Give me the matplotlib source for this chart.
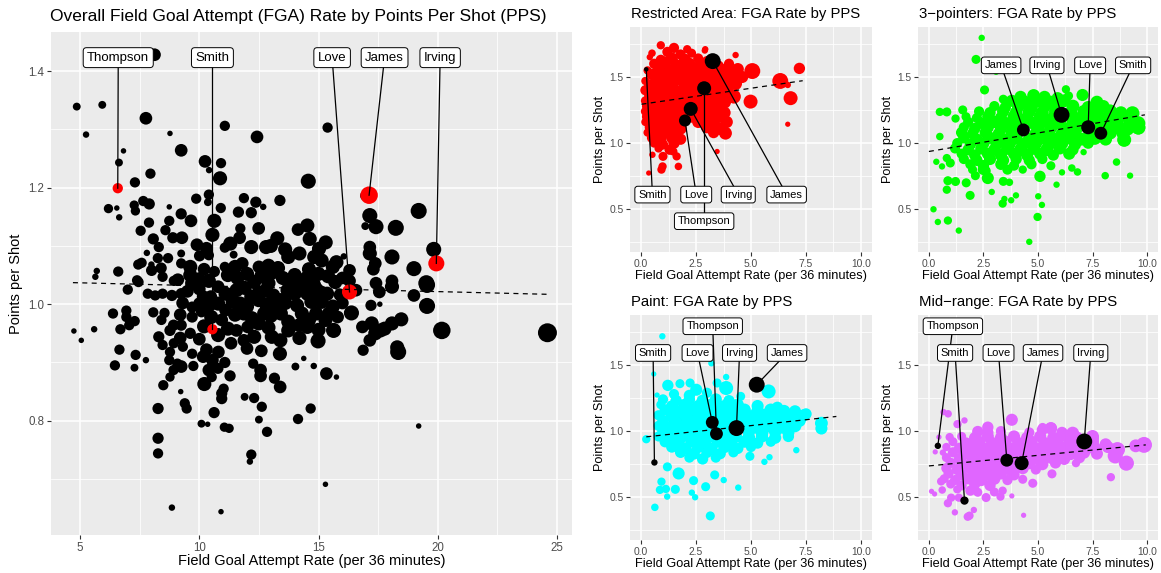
import numpy as np
import matplotlib
matplotlib.use("Agg")
import matplotlib.pyplot as plt

plt.rcParams['font.family'] = ['Liberation Sans', 'DejaVu Sans']

W, H = 1161, 573

# ---------------- overall panel ----------------
main_x = [
    8.12, 4.86, 5.93, 5.25, 7.76, 8.77, 11.07, 12.42, 15.38, 9.24,
    6.82, 6.63, 7.30, 7.95, 10.24, 10.91, 10.41, 10.87, 14.57, 16.96,
    19.2, 6.19, 6.54, 6.64, 7.27, 7.32, 7.65, 7.90, 8.74, 9.87,
    10.40, 10.36, 10.90, 11.87, 12.37, 12.68, 13.38, 11.64, 12.18, 9.24,
    9.65, 8.74, 8.58, 7.89, 7.54, 10.63, 10.55, 8.07, 8.89, 9.27,
    8.30, 11.72, 12.49, 11.69, 12.18, 12.80, 13.27, 14.14, 14.53, 14.63,
    15.02, 17.15, 17.41, 16.96, 18.24, 11.07, 7.80, 7.44, 7.58, 7.99,
    8.26, 8.69, 9.24, 9.24, 10.01, 10.40, 11.44, 11.07, 5.70, 5.64,
    6.60, 7.39, 8.46, 8.93, 9.62, 9.62, 9.70, 10.63, 11.80, 12.50,
    13.73, 14.20, 14.82, 15.13, 15.60, 15.75, 16.06, 17.15, 17.15, 17.38,
    17.30, 18.08, 19.00, 19.83, 19.52, 17.41, 18.08, 11.2, 11.6, 12.0,
    12.6, 13.1, 13.5, 14.0, 14.5, 15.0, 15.4, 16.0, 7.0, 7.45,
    7.84, 8.15, 8.46, 8.85, 9.24, 10.16, 10.48, 10.79, 11.10, 11.56,
    12.18, 12.80, 13.10, 13.42, 14.20, 14.53, 15.36, 16.57, 17.55, 18.08,
    19.00, 19.55, 10.01, 10.79, 11.10, 11.72, 12.49, 11.87, 12.72, 13.42,
    15.00, 15.13, 14.90, 15.44, 17.20, 17.57, 19.55, 16.38, 6.38, 6.94,
    6.94, 8.07, 8.54, 8.41, 9.70, 10.09, 9.70, 10.94, 12.49, 12.03,
    13.73, 14.60, 15.29, 16.84, 17.23, 18.08, 18.47, 6.69, 7.06, 7.29,
    8.92, 9.24, 11.56, 13.73, 14.53, 15.63, 17.60, 17.77, 17.38, 4.74,
    5.05, 5.59, 8.30, 8.77, 9.62, 10.79, 11.87, 13.04, 14.98, 17.15,
    20.17, 24.60, 8.46, 8.93, 9.31, 11.33, 6.65, 7.33, 8.77, 9.70,
    13.38, 16.87, 18.34, 18.30, 7.76, 8.74, 9.08, 10.16, 10.55, 11.07,
    14.38, 6.46, 7.28, 9.24, 8.92, 9.75, 10.40, 10.78, 12.26, 12.57,
    12.57, 14.03, 14.80, 15.33, 8.77, 8.49, 10.52, 10.21, 11.29, 13.15,
    13.39, 15.75, 9.22, 9.39, 9.47, 10.94, 11.02, 10.94, 8.27, 10.62,
    11.90, 12.30, 12.62, 14.67, 10.09, 10.35, 11.05, 11.25, 12.50, 12.84,
    14.14, 19.20, 8.27, 8.27, 12.18, 12.12, 8.85, 10.91, 15.29,
    9.9, 10.3, 11.3, 13.0, 13.6, 15.3, 8.0, 8.4, 10.2, 11.5,
    12.9, 13.3, 14.6, 16.3, 9.1, 10.0, 10.4, 12.3, 12.9, 13.8,
    14.3, 14.8, 15.7, 16.3, 9.5, 10.0, 11.9, 12.5, 13.7, 14.0,
    14.9, 15.1, 15.9, 9.3, 10.4, 11.4, 12.0, 12.8, 13.1, 13.6,
    14.1, 14.7, 15.6, 16.0, 9.2, 10.5, 11.5, 12.2, 13.0, 14.3,
    15.8, 10.2, 11.2, 12.9, 14.2, 15.0, 9.2, 10.0, 12.3, 13.4,
    14.2, 10.3, 10.8, 12.0, 12.6,
]
main_y = [
    1.428, 1.339, 1.342, 1.291, 1.319, 1.293, 1.306, 1.287, 1.303, 1.264,
    1.263, 1.243, 1.209, 1.224, 1.245, 1.242, 1.230, 1.216, 1.211, 1.186,
    1.160, 1.164, 1.165, 1.149, 1.170, 1.160, 1.177, 1.172, 1.167, 1.181,
    1.188, 1.175, 1.165, 1.182, 1.175, 1.167, 1.178, 1.158, 1.157, 1.155,
    1.143, 1.143, 1.127, 1.140, 1.126, 1.143, 1.119, 1.112, 1.114, 1.114,
    1.098, 1.130, 1.130, 1.114, 1.098, 1.098, 1.113, 1.128, 1.135, 1.112,
    1.095, 1.152, 1.133, 1.134, 1.131, 1.097, 1.088, 1.068, 1.071, 1.068,
    1.079, 1.079, 1.087, 1.070, 1.083, 1.084, 1.085, 1.064, 1.057, 1.047,
    1.056, 1.041, 1.047, 1.040, 1.064, 1.050, 1.036, 1.056, 1.070, 1.064,
    1.081, 1.087, 1.081, 1.075, 1.064, 1.072, 1.082, 1.087, 1.098, 1.070,
    1.060, 1.081, 1.061, 1.094, 1.036, 1.036, 1.040, 1.050, 1.045, 1.052,
    1.048, 1.055, 1.045, 1.050, 1.045, 1.052, 1.048, 1.045, 1.025, 1.038,
    1.018, 1.015, 1.018, 1.015, 1.018, 1.013, 1.013, 1.030, 1.018, 1.024,
    1.013, 1.024, 1.015, 1.007, 1.030, 1.018, 1.018, 1.024, 1.021, 1.030,
    1.015, 1.033, 1.001, 1.001, 0.990, 1.001, 1.007, 0.984, 0.984, 0.984,
    1.007, 1.004, 0.984, 0.984, 0.998, 1.000, 0.997, 0.985, 0.984, 0.989,
    0.978, 0.986, 0.985, 0.973, 0.978, 0.987, 0.995, 0.973, 0.967, 0.961,
    0.970, 0.973, 0.973, 0.961, 0.967, 0.967, 0.974, 0.957, 0.964, 0.971,
    0.964, 0.964, 0.955, 0.955, 0.961, 0.955, 0.955, 0.958, 0.950, 0.954,
    0.938, 0.957, 0.944, 0.955, 0.950, 0.947, 0.938, 0.944, 0.937, 0.938,
    0.955, 0.951, 0.930, 0.933, 0.927, 0.933, 0.922, 0.913, 0.918, 0.915,
    0.915, 0.921, 0.918, 0.926, 0.904, 0.904, 0.898, 0.910, 0.904, 0.900,
    0.907, 0.895, 0.891, 0.893, 0.887, 0.894, 0.887, 0.890, 0.898, 0.887,
    0.877, 0.893, 0.894, 0.881, 0.875, 0.861, 0.875, 0.863, 0.877, 0.873,
    0.858, 0.875, 0.850, 0.830, 0.821, 0.847, 0.855, 0.838, 0.821, 0.814,
    0.841, 0.839, 0.824, 0.821, 0.795, 0.794, 0.789, 0.787, 0.802, 0.781,
    0.803, 0.791, 0.770, 0.744, 0.742, 0.730, 0.651, 0.644, 0.691,
    1.102, 1.096, 1.104, 1.100, 1.094, 1.106, 1.058, 1.062, 1.060, 1.064,
    1.066, 1.062, 1.060, 1.058, 1.042, 1.044, 1.040, 1.038, 1.036, 1.040,
    1.036, 1.034, 1.038, 1.040, 1.022, 1.026, 1.028, 1.020, 1.024, 1.018,
    1.026, 1.020, 1.016, 1.002, 0.998, 1.004, 0.996, 1.000, 0.994, 1.002,
    0.998, 1.004, 0.996, 1.002, 0.982, 0.978, 0.982, 0.976, 0.980, 0.984,
    0.978, 0.962, 0.958, 0.960, 0.964, 0.956, 0.942, 0.940, 0.944, 0.938,
    0.942, 0.922, 0.918, 0.924, 0.920,
]
main_s = [
    2.5, 1.5, 1.5, 1.2, 2.5, 1, 2, 2.5, 2, 2.5,
    1, 1.5, 2, 2, 2.5, 2, 1.2, 2.8, 3, 2,
    3.2, 1.8, 1, 1.2, 1.8, 1.8, 2, 2.2, 1, 2,
    2, 1.5, 2, 2, 2.2, 1.2, 2.2, 2.2, 2.2, 2.2,
    2.5, 2, 2, 2, 2, 2.8, 2.8, 2.2, 2.2, 2.5,
    2, 2, 2.5, 2.5, 2.8, 2.8, 2.8, 2.5, 2.8, 2.8,
    2.8, 3, 3, 1.5, 3.2, 2, 1.2, 2, 2, 1.2,
    2, 2, 1.5, 2, 2.2, 2, 1.5, 2, 1.2, 1.2,
    2, 2, 2, 2, 2.8, 2.8, 2.8, 2.2, 2.5, 2.5,
    2.8, 2.8, 2.8, 2.8, 2.8, 2.8, 1.2, 2.8, 2.5, 2.5,
    2.5, 3, 3, 3, 3.2, 2.5, 2.5, 2.8, 2.8, 2.8,
    2.8, 2.8, 2.8, 2.8, 2.8, 2.8, 2.8, 2.5, 2, 2,
    2, 2, 2, 2.2, 2.2, 2.5, 2.5, 2.5, 2.8, 2.8,
    2.8, 2.8, 2.8, 2.8, 2.8, 2.8, 2.8, 2.5, 2.5, 2.8,
    2.5, 3.2, 2.5, 2.8, 2.5, 2.8, 2.8, 2.8, 2.8, 2.8,
    2.8, 2.8, 2.8, 2.8, 2.2, 1, 3.2, 3, 2, 2,
    2, 2, 2, 2, 2.2, 2.2, 2.2, 2.5, 2.8, 2.5,
    2.8, 2.8, 2.8, 2.5, 2.8, 2.8, 2.8, 2, 2, 2,
    2.2, 2.2, 2.5, 2.8, 2.8, 3, 2.8, 2.8, 2.8, 1,
    1, 1.2, 2.2, 2.2, 2.2, 2.8, 2.5, 2.8, 3, 2.5,
    3.5, 3.8, 2, 2, 2, 2.5, 2, 2, 2, 2,
    2.8, 2.2, 3.2, 2.8, 1.2, 2, 2, 2.5, 2.5, 2.2,
    1, 2, 1.5, 2.5, 2, 2, 2.5, 2.2, 2, 2.5,
    2.5, 1.5, 1.2, 2.5, 1.8, 2, 2, 2.8, 2.2, 2.2,
    2.5, 1, 1, 2, 2, 2.2, 2, 2.2, 2.2, 2.2,
    1.5, 2, 2, 2, 1.5, 1, 1.8, 1.8, 1.5, 2,
    2, 1, 2.2, 2, 2, 1.2, 1.2, 1, 1,
    2.5, 2.5, 2.8, 2.8, 2.8, 2.8, 2.2, 2.2, 2.5, 2.8,
    2.8, 2.8, 2.8, 2.5, 2.5, 2.5, 2.8, 2.8, 2.8, 2.8,
    2.8, 2.8, 2.8, 2.5, 2.5, 2.5, 2.8, 2.8, 2.8, 2.8,
    2.8, 2.8, 2.5, 2.5, 2.8, 2.8, 2.8, 2.8, 2.8, 2.8,
    2.8, 2.8, 2.8, 2.5, 2.5, 2.8, 2.8, 2.8, 2.8, 2.8,
    2.5, 2.8, 2.8, 2.8, 2.8, 2.8, 2.5, 2.5, 2.8, 2.8,
    2.8, 2.5, 2.5, 2.5, 2.5,
]
main_names = ['Thompson', 'Smith', 'Love', 'James', 'Irving']
main_hx = [6.58, 10.55, 16.30, 17.12, 19.94]
main_hy = [1.199, 0.957, 1.021, 1.187, 1.070]
main_hs = [2, 2, 3, 3.5, 3.2]
main_lx = [6.6, 10.55, 15.57, 17.77, 20.1]
main_ly = [1.423, 1.423, 1.423, 1.423, 1.423]
main_fit = [-0.001005, 1.0417]
main_fit_range = [4.7, 24.6]

# ---------------- Restricted Area ----------------
ra_x = [
    0.9, 1.5, 2.1,
    0.5, 1.2, 1.8, 2.3, 2.9,
    0.4, 0.9, 1.4, 2.0, 2.6, 3.0,
    0.6, 1.1, 1.6, 2.2, 2.7, 3.5, 4.0,
    0.3, 0.8, 1.3, 1.9, 2.4, 3.0, 3.7, 4.4, 5.06,
    0.5, 1.0, 1.5, 2.1, 2.6, 3.3, 3.9, 4.6,
    0.2, 0.7, 1.2, 1.8, 2.3, 2.9, 3.5, 4.2, 6.33,
    0.4, 0.9, 1.4, 2.0, 2.5, 3.1, 3.7, 4.3, 6.67,
    0.2, 0.6, 1.1, 1.6, 2.2, 2.7, 3.3, 3.9,
    0.4, 0.8, 1.3, 1.9, 2.4, 3.0, 3.6, 4.22,
    0.2, 0.6, 1.0, 1.5, 2.1, 2.6, 3.2, 3.8, 4.98,
    0.3, 0.8, 1.2, 1.7, 2.3, 2.9, 3.5,
    0.2, 0.6, 1.0, 1.5, 2.0, 2.6, 3.2, 3.8,
    0.3, 0.8, 1.2, 1.7, 2.3, 2.9, 3.5,
    0.2, 0.6, 1.0, 1.5, 2.6, 3.2, 3.9,
    0.4, 0.8, 1.3, 1.8, 3.0, 3.6,
    0.3, 0.7, 1.1, 1.6, 3.3, 3.84,
    0.5, 0.9, 1.4, 1.8,
    0.6, 1.0, 1.5,
    0.8, 1.3,
    0.86, 1.0, 0.98, 0.93, 1.47, 1.62, 1.7, 0.35, 0.52, 3.46,
    6.67, 7.2, 6.8, 4.3, 4.07, 2.92,
]
ra_y = [
    1.74, 1.72, 1.71,
    1.68, 1.69, 1.67, 1.68, 1.70,
    1.65, 1.63, 1.64, 1.63, 1.64, 1.62,
    1.60, 1.61, 1.59, 1.60, 1.59, 1.58, 1.60,
    1.55, 1.56, 1.55, 1.56, 1.55, 1.56, 1.55, 1.56, 1.545,
    1.52, 1.51, 1.52, 1.51, 1.52, 1.51, 1.52, 1.50,
    1.47, 1.48, 1.47, 1.48, 1.47, 1.48, 1.47, 1.48, 1.47,
    1.44, 1.43, 1.44, 1.43, 1.44, 1.43, 1.44, 1.45, 1.44,
    1.40, 1.39, 1.40, 1.39, 1.40, 1.39, 1.40, 1.40,
    1.36, 1.35, 1.36, 1.35, 1.36, 1.35, 1.36, 1.352,
    1.32, 1.31, 1.32, 1.31, 1.32, 1.31, 1.32, 1.31, 1.314,
    1.28, 1.27, 1.28, 1.27, 1.28, 1.27, 1.28,
    1.24, 1.23, 1.24, 1.23, 1.24, 1.23, 1.24, 1.23,
    1.20, 1.19, 1.20, 1.19, 1.20, 1.19, 1.20,
    1.16, 1.15, 1.16, 1.15, 1.16, 1.15, 1.16,
    1.12, 1.11, 1.12, 1.11, 1.12, 1.11,
    1.08, 1.07, 1.08, 1.07, 1.08, 1.075,
    1.04, 1.03, 1.04, 1.03,
    1.00, 0.99, 1.00,
    0.96, 0.95,
    0.975, 0.90, 0.824, 0.80, 0.937, 0.90, 0.824, 0.774, 0.912, 0.937,
    1.143, 1.565, 1.34, 1.666, 1.528, 1.71,
]
ra_s = [
    2, 2.5, 2,
    1.8, 2.5, 2.5, 2.2, 1.5,
    1.5, 2.5, 3, 3, 2.5, 2.5,
    2.5, 3, 3, 3, 3, 3, 2.5,
    2, 3, 3, 3, 3.2, 3.2, 3.2, 3, 4,
    2.8, 3, 3.2, 3.2, 3.2, 3.2, 3.5, 3,
    2, 3, 3.2, 3.2, 3.2, 3.2, 3.5, 3.5, 4,
    2.8, 3, 3.2, 3.2, 3.2, 3.2, 3.5, 3.2, 1.5,
    2.5, 3, 3.2, 3.2, 3.2, 3.2, 3.5, 3.5,
    2.8, 3, 3.2, 3.2, 3.2, 3.2, 3.5, 3.5,
    2.2, 3, 3.2, 3.2, 3.2, 3.2, 3.5, 3.2, 3.5,
    2.8, 3, 3.2, 3.2, 3.2, 3.2, 3.2,
    2.2, 3, 3.2, 3.2, 3.2, 3.2, 3.2, 3,
    2.8, 3, 3.2, 3.2, 3, 3.2, 3.2,
    2, 3, 3, 3, 3, 3.2, 3,
    2.5, 3, 3, 3, 3, 3.2,
    2, 2.8, 3, 3, 2.8, 3.2,
    2.5, 2.8, 2.8, 2.8,
    2.2, 2.5, 2.8,
    2, 2.5,
    2, 2.2, 2, 2, 2, 2, 1.8, 1.2, 1.5, 1.2,
    1.2, 2.8, 3.5, 1.5, 3.8, 1.5,
]
ra_names = ['Smith', 'Love', 'Irving', 'James', 'Thompson']
ra_hx = [0.24, 2.00, 2.26, 3.26, 2.87]
ra_hy = [1.558, 1.171, 1.259, 1.620, 1.415]
ra_hs = [1, 3, 3.5, 4, 3.5]
ra_lx = [0.52, 2.51, 4.42, 6.62, 2.87]
ra_ly = [0.611, 0.611, 0.611, 0.611, 0.41]
ra_fit = [0.02428, 1.2935]
ra_fit_range = [0.02, 7.35]

# ---------------- 3-pointers ----------------
tp_x = [
    4.2, 4.8, 5.3, 5.9,
    3.8, 4.4, 5.0, 5.6, 6.2, 7.7,
    3.0, 3.5, 4.1, 4.7, 5.3, 5.9, 6.6, 7.3, 8.0,
    2.3, 2.8, 3.4, 4.0, 4.6, 5.2, 5.8, 6.5, 7.1, 7.7, 8.3, 8.8,
    1.7, 2.2, 2.7, 3.3, 3.9, 4.5, 5.1, 5.7, 6.6, 7.0, 7.6, 8.2, 8.7, 9.3,
    1.8, 2.4, 3.0, 3.6, 4.2, 4.8, 5.4, 6.0, 6.6, 7.2, 8.0, 8.6, 9.2, 9.6,
    1.6, 2.1, 2.7, 3.3, 3.9, 5.0, 5.6, 6.2, 6.8, 7.8, 8.5, 9.1, 9.6,
    1.5, 2.0, 2.6, 3.2, 3.8, 4.9, 5.5, 6.1, 6.7, 7.4, 8.3, 8.9,
    1.6, 2.2, 2.8, 3.4, 4.0, 4.6, 5.2, 5.8, 6.4, 7.0, 7.6, 8.1, 8.95,
    1.3, 1.9, 2.5, 3.1, 3.7, 4.3, 4.9, 5.5, 6.1, 6.7, 7.3,
    1.2, 1.8, 2.4, 3.0, 3.6, 4.2, 4.8, 5.4, 6.0, 6.6,
    1.5, 2.1, 2.7, 3.3, 3.9, 4.5, 5.1, 5.7, 6.43, 7.09,
    1.6, 2.2, 2.8, 3.4, 4.0, 4.6, 5.2,
    1.9, 2.5, 3.3, 3.9, 4.7,
    2.0, 2.6, 3.6, 4.3,
    2.42, 2.16, 3.08, 2.55, 3.41, 6.28, 6.4, 7.04, 0.5, 0.82,
    1.22, 1.55, 0.5, 0.34, 0.6, 0.82, 0.98, 0.87, 0.82, 1.22,
    0.21, 0.41, 0.87, 1.37, 1.89, 1.71, 2.13, 2.47, 2.88, 3.38,
    3.46, 3.77, 3.99, 3.69, 3.41, 2.7, 4.6, 4.98, 5.01, 5.18,
    5.09, 5.59, 5.85, 6.1, 6.55, 6.81, 8.6, 8.08, 9.22, 9.6,
    9.33, 8.95,
]
tp_y = [
    1.35, 1.36, 1.35, 1.34,
    1.32, 1.31, 1.32, 1.31, 1.32, 1.31,
    1.28, 1.27, 1.28, 1.27, 1.28, 1.27, 1.28, 1.27, 1.28,
    1.24, 1.23, 1.24, 1.23, 1.24, 1.23, 1.24, 1.23, 1.24, 1.23, 1.24, 1.23,
    1.20, 1.19, 1.20, 1.19, 1.20, 1.19, 1.20, 1.19, 1.20, 1.19, 1.20, 1.19, 1.20, 1.21,
    1.16, 1.15, 1.16, 1.15, 1.16, 1.15, 1.16, 1.15, 1.16, 1.15, 1.16, 1.15, 1.16, 1.15,
    1.12, 1.11, 1.12, 1.11, 1.12, 1.11, 1.12, 1.11, 1.12, 1.11, 1.12, 1.11, 1.118,
    1.08, 1.07, 1.08, 1.07, 1.08, 1.07, 1.08, 1.07, 1.08, 1.07, 1.08, 1.07,
    1.04, 1.03, 1.04, 1.03, 1.04, 1.03, 1.04, 1.03, 1.04, 1.03, 1.04, 1.03, 1.025,
    1.00, 0.99, 1.00, 0.99, 1.00, 0.99, 1.00, 0.99, 1.00, 0.99, 1.00,
    0.96, 0.95, 0.96, 0.95, 0.96, 0.95, 0.96, 0.95, 0.96, 0.95,
    0.92, 0.91, 0.92, 0.91, 0.92, 0.91, 0.92, 0.91, 0.92, 0.932,
    0.88, 0.87, 0.88, 0.87, 0.88, 0.87, 0.88,
    0.84, 0.83, 0.84, 0.83, 0.84,
    0.80, 0.79, 0.80, 0.80,
    1.796, 1.633, 1.54, 1.402, 1.332, 1.407, 1.357, 1.364, 1.236, 1.236,
    1.186, 1.251, 1.05, 0.859, 0.824, 0.887, 0.85, 0.716, 0.648, 0.71,
    0.50, 0.404, 0.415, 0.339, 0.605, 0.70, 0.754, 0.799, 0.631, 0.543,
    0.578, 0.568, 0.605, 0.704, 0.711, 0.736, 0.254, 0.442, 0.598, 0.533,
    0.749, 0.829, 0.686, 0.779, 0.812, 0.782, 0.857, 0.754, 0.754, 1.118,
    1.226, 1.025,
]
tp_s = [
    3, 3.2, 3, 3,
    3, 3.2, 3.2, 3.2, 3.2, 3.2,
    2.5, 2.8, 3.2, 3.2, 3.2, 3.2, 3.2, 3.2, 3,
    2.5, 2.8, 3, 3.2, 3.2, 3.2, 3.2, 3.2, 3.2, 3.2, 3.5, 3.2,
    2.2, 2.5, 2.8, 3, 3.2, 3.2, 3.2, 3.2, 3.2, 3.2, 3.2, 3.5, 3.5, 3.2,
    2.5, 2.8, 3, 3, 3.2, 3.2, 3.2, 3.2, 3.2, 3.5, 3.5, 3.5, 3.2, 3.5,
    2.5, 2.8, 3, 3, 3.2, 3.2, 3.2, 3.2, 3.2, 3.5, 3.5, 3.5, 3.5,
    2.8, 2.8, 3, 3, 3.2, 3.2, 3.2, 3.2, 3.2, 3.5, 3.5, 3.2,
    2.8, 2.8, 3, 3, 3.2, 3.2, 3.2, 3.2, 3.2, 3.2, 3.5, 3.2, 3.5,
    2.5, 2.8, 3, 3, 3.2, 3.2, 3.2, 3.2, 3.2, 3, 2.8,
    2.5, 2.8, 3, 3, 3.2, 3.2, 3.2, 3.2, 3, 2.8,
    2.5, 2.8, 3, 3, 3, 3, 3, 2.8, 3, 1.5,
    2.5, 2.8, 3, 3, 2.8, 2.8, 2.5,
    2.5, 2.8, 2.8, 2.5, 2.5,
    2.2, 2.5, 2.5, 2,
    1.5, 2.2, 1.5, 2.2, 2.2, 2, 2.2, 3, 2, 2.2,
    2, 2.2, 1.8, 1.5, 1.5, 2, 2.2, 2.2, 2, 2.2,
    1.5, 1.5, 2, 1.5, 2.2, 2.2, 2.2, 2.5, 1.5, 2,
    1.5, 1.5, 1.5, 1.8, 2.2, 3, 1.5, 2, 1.5, 1.5,
    2.8, 2.2, 1.5, 1.5, 1.8, 1.8, 1.8, 1.8, 1.5, 3.5,
    3.5, 3.2,
]
tp_names = ['James', 'Irving', 'Love', 'Smith']
tp_hx = [4.33, 6.08, 7.30, 7.88]
tp_hy = [1.100, 1.214, 1.120, 1.075]
tp_hs = [3.2, 4, 3.5, 3.2]
tp_lx = [3.31, 5.41, 7.39, 9.36]
tp_ly = [1.588, 1.588, 1.588, 1.588]
tp_fit = [0.02798, 0.937]
tp_fit_range = [0.0, 9.9]

# ---------------- Paint ----------------
pt_x = [
    1.5, 2.2, 3.0,
    1.0, 1.6, 2.2, 2.8, 3.4, 4.0,
    0.9, 1.4, 2.0, 2.6, 3.2, 3.8, 4.4, 5.3, 6.2,
    1.1, 1.7, 2.3, 2.9, 3.5, 4.1, 4.7, 5.3, 5.9, 6.5, 7.0,
    0.8, 1.4, 2.0, 2.6, 3.2, 3.8, 4.4, 5.0, 5.6, 6.2, 6.8, 7.4,
    1.0, 1.6, 2.2, 2.8, 3.6, 4.2, 4.8, 5.4, 6.0, 6.6, 7.2,
    0.8, 1.3, 1.9, 2.5, 3.1, 3.8, 4.6, 5.2, 5.8, 6.4, 7.0,
    1.0, 1.6, 2.2, 2.8, 3.6, 4.0, 4.9, 5.5, 6.1, 6.7,
    0.8, 1.3, 1.9, 2.5, 3.1, 3.7, 4.3, 4.9, 5.5, 6.1, 6.7,
    1.1, 1.7, 2.3, 2.9, 3.5, 4.1, 4.7, 5.3, 5.9,
    1.4, 2.0, 2.6, 3.2, 3.8, 4.4, 5.0,
    1.8, 2.4, 3.0, 3.6, 4.2,
    2.2, 2.8, 3.4,
    0.97, 0.58, 0.73, 0.63, 3.15, 0.86, 0.93, 1.19, 1.13, 1.56,
    2.31, 2.46, 2.39, 2.94, 3.76, 4.42, 3.35, 1.71, 1.2, 5.61,
    5.84, 7.06, 8.2, 8.2, 4.95, 3.87, 3.46, 3.87, 3.2, 2.51,
    1.77, 2.23, 1.22, 5.8, 4.53, 7.5, 0.24,
]
pt_y = [
    1.28, 1.27, 1.29,
    1.24, 1.23, 1.24, 1.23, 1.24, 1.23,
    1.20, 1.19, 1.20, 1.19, 1.20, 1.19, 1.20, 1.19, 1.18,
    1.16, 1.15, 1.16, 1.15, 1.16, 1.15, 1.16, 1.15, 1.16, 1.15, 1.15,
    1.12, 1.11, 1.12, 1.11, 1.12, 1.11, 1.12, 1.11, 1.12, 1.11, 1.12, 1.12,
    1.08, 1.07, 1.08, 1.07, 1.08, 1.07, 1.08, 1.07, 1.08, 1.07, 1.08,
    1.04, 1.03, 1.04, 1.03, 1.04, 1.03, 1.04, 1.03, 1.04, 1.03, 1.04,
    1.00, 0.99, 1.00, 0.99, 1.00, 0.99, 1.00, 0.99, 1.00, 0.99,
    0.96, 0.95, 0.96, 0.95, 0.96, 0.95, 0.96, 0.95, 0.96, 0.95, 0.96,
    0.92, 0.91, 0.92, 0.91, 0.92, 0.91, 0.92, 0.91, 0.92,
    0.88, 0.87, 0.88, 0.87, 0.88, 0.87, 0.88,
    0.84, 0.83, 0.84, 0.83, 0.84,
    0.80, 0.79, 0.80,
    1.717, 1.432, 1.273, 0.424, 0.359, 0.556, 0.618, 0.505, 0.563, 0.56,
    0.535, 0.50, 0.626, 0.58, 0.63, 0.573, 0.669, 0.68, 0.73, 0.768,
    0.803, 0.856, 1.06, 1.02, 0.81, 1.409, 1.364, 1.326, 1.513, 1.313,
    1.359, 1.364, 1.346, 1.30, 1.263, 1.13, 0.939,
]
pt_s = [
    2.5, 2.8, 2.5,
    2.5, 2.8, 2.8, 3, 3, 2.8,
    2.2, 2.8, 3, 3, 3, 3, 3, 3, 2.8,
    2.8, 3, 3, 3, 3.2, 3.2, 3.2, 3.2, 3.2, 3.2, 3,
    2.5, 3, 3, 3, 3.2, 3.2, 3.2, 3.2, 3.2, 3.2, 3.2, 3,
    2.8, 3, 3, 3, 3.2, 3.2, 3.2, 3.2, 3.2, 3.2, 3.2,
    2.5, 3, 3, 3, 3.2, 3.2, 3.2, 3.2, 3.2, 3.2, 3.2,
    2.8, 3, 3, 3, 3.2, 3.2, 3.2, 3.2, 3.2, 3,
    2.5, 3, 3, 3, 3.2, 3.2, 3.2, 3.2, 3, 3, 2.8,
    2.8, 3, 3, 3, 3, 3, 3, 2.8, 2.5,
    2.8, 3, 3, 3, 3, 2.8, 2.5,
    2.8, 3, 2.8, 2.8, 2.5,
    2.5, 2.8, 2.5,
    1.5, 1.2, 1.2, 1.8, 2.2, 2, 2, 1.5, 2, 2.2,
    1.5, 1.5, 2.2, 2.2, 1.5, 1.5, 2.2, 3, 2.2, 1.5,
    1.5, 1.5, 3.2, 3, 2.2, 1.5, 2.2, 3.5, 1.5, 3,
    2.2, 2.2, 2.8, 3.5, 2.2, 2.8, 2,
]
pt_names = ['Smith', 'Love', 'Irving', 'James', 'Thompson']
pt_hx = [0.61, 3.24, 4.34, 5.26, 3.43]
pt_hy = [0.763, 1.066, 1.023, 1.351, 0.980]
pt_hs = [1.5, 3.2, 4, 4, 3.2]
pt_lx = [0.55, 2.57, 4.48, 6.64, 3.26]
pt_ly = [1.591, 1.591, 1.591, 1.591, 1.793]
pt_fit = [0.01782, 0.9527]
pt_fit_range = [0.24, 8.88]

# ---------------- Mid-range ----------------
mr_x = [
    2.7, 3.3, 4.6, 5.2, 5.6, 6.1,
    1.5, 2.1, 2.7, 3.3, 3.9, 4.5, 5.1, 5.7, 6.3, 6.8, 7.5,
    1.1, 1.7, 2.3, 2.9, 3.5, 4.1, 4.7, 5.3, 5.9, 6.5, 7.5, 8.1,
    0.8, 1.4, 2.0, 2.6, 3.2, 3.8, 4.4, 5.0, 5.6, 6.2, 6.8, 7.6, 8.2,
    1.1, 1.7, 2.3, 2.9, 3.5, 4.1, 4.7, 5.3, 5.9, 6.5, 7.1, 7.7,
    0.8, 1.4, 2.0, 2.6, 3.2, 3.8, 4.4, 5.0, 5.6, 6.2, 6.9,
    1.0, 1.6, 2.2, 2.8, 3.4, 4.0, 4.6, 5.2, 5.8,
    0.8, 1.3, 1.9, 2.5, 3.1, 3.7, 4.3, 4.9,
    0.9, 1.5, 2.1, 2.7, 3.3, 3.9,
    0.7, 1.2, 1.8, 2.4, 3.0, 3.6,
    1.0, 1.5, 2.1, 2.8,
    1.3, 1.9,
    0.67, 0.88, 0.46, 0.29, 0.64, 0.12, 0.26, 0.56, 0.61, 0.87,
    1.02, 1.19, 1.78, 1.86, 2.06, 1.37, 2.24, 2.62, 3.0, 3.28,
    3.38, 3.8, 4.34, 4.76, 4.3, 3.8, 1.63, 1.31, 0.95, 2.7,
    2.24, 8.34, 9.05, 8.54, 8.64, 9.86, 9.48, 7.5, 6.59, 5.59,
    5.21, 6.28, 6.74, 5.64,
]
mr_y = [
    0.99, 1.00, 0.99, 1.01, 1.02, 0.99,
    0.96, 0.95, 0.96, 0.95, 0.96, 0.95, 0.96, 0.95, 0.96, 0.95, 0.96,
    0.92, 0.91, 0.92, 0.91, 0.92, 0.91, 0.92, 0.91, 0.92, 0.91, 0.92, 0.90,
    0.88, 0.87, 0.88, 0.87, 0.88, 0.87, 0.88, 0.87, 0.88, 0.87, 0.88, 0.87, 0.88,
    0.84, 0.83, 0.84, 0.83, 0.84, 0.83, 0.84, 0.83, 0.84, 0.83, 0.84, 0.83,
    0.80, 0.79, 0.80, 0.79, 0.80, 0.79, 0.80, 0.79, 0.80, 0.79, 0.80,
    0.76, 0.75, 0.76, 0.75, 0.76, 0.75, 0.76, 0.75, 0.76,
    0.72, 0.71, 0.72, 0.71, 0.72, 0.71, 0.72, 0.71,
    0.68, 0.67, 0.68, 0.67, 0.68, 0.67,
    0.64, 0.63, 0.64, 0.63, 0.64, 0.63,
    0.60, 0.59, 0.60, 0.59,
    0.56, 0.55,
    1.144, 1.131, 0.955, 0.843, 0.838, 0.545, 0.525, 0.62, 0.555, 0.455,
    0.497, 0.386, 0.353, 0.361, 0.404, 0.497, 0.538, 0.498, 0.54, 0.505,
    0.55, 0.51, 0.364, 0.606, 0.636, 1.086, 1.081, 1.053, 0.955, 1.03,
    0.997, 0.652, 0.758, 0.813, 0.86, 0.896, 0.889, 0.944, 0.985, 1.023,
    1.028, 0.795, 0.758, 0.677,
]
mr_s = [
    2.8, 2.5, 2.5, 2.8, 3, 2.8,
    2.2, 2.8, 3, 3, 3, 3, 3, 3, 3, 3, 3.2,
    2.2, 2.8, 3, 3, 3, 3, 3, 3, 3, 3.2, 3.2, 3,
    2, 2.8, 3, 3, 3, 3, 3, 3, 3, 3.2, 3.2, 3.2, 3,
    2.5, 2.8, 3, 3, 3.2, 3.2, 3.2, 3.2, 3.2, 3.2, 3.2, 3,
    2.2, 2.8, 3, 3, 3.2, 3.2, 3.2, 3.2, 3, 3, 2.8,
    2.5, 2.8, 3, 3, 3.2, 3.2, 3.2, 3, 2.8,
    2.5, 2.8, 3, 3, 3, 3, 3, 2.5,
    2.5, 2.8, 3, 3, 3, 2.8,
    2.2, 2.5, 2.8, 3, 3, 2.5,
    2.2, 2.5, 2.8, 2.8,
    2, 2.5,
    1.5, 1.8, 1.2, 1.2, 1.5, 1.2, 1.2, 2, 1.8, 2,
    2, 1.5, 2, 2, 1.5, 2, 2.2, 2.2, 2.2, 2,
    2, 1.2, 1.2, 2.2, 2.2, 3, 1.5, 2, 2, 2.8,
    2.8, 2, 3.8, 3.8, 3.8, 4, 3.2, 3.2, 3.2, 3,
    2.2, 2, 2, 2.2,
]
mr_names = ['Thompson', 'Smith', 'Love', 'James', 'Irving']
mr_hx = [0.41, 1.63, 3.57, 4.25, 7.12]
mr_hy = [0.889, 0.475, 0.780, 0.758, 0.922]
mr_hs = [1.5, 2, 3.2, 3.5, 4]
mr_lx = [1.1, 1.2, 3.19, 5.23, 7.42]
mr_ly = [1.793, 1.591, 1.591, 1.591, 1.591]
mr_fit = [0.016, 0.737]
mr_fit_range = [0.0, 9.94]

for name, a, b, c in [('main', main_x, main_y, main_s), ('ra', ra_x, ra_y, ra_s),
                      ('tp', tp_x, tp_y, tp_s), ('pt', pt_x, pt_y, pt_s),
                      ('mr', mr_x, mr_y, mr_s)]:
    if not (len(a) == len(b) == len(c)):
        raise ValueError(f'{name}: {len(a)} {len(b)} {len(c)}')

xlabel = 'Field Goal Attempt Rate (per 36 minutes)'
ylabel = 'Points per Shot'


def area_main(s):
    d = 5.5 + (np.asarray(s) - 1) * 4.8
    return (d * 0.72) ** 2


def area_small(s):
    d = 4.5 + (np.asarray(s) - 1) * 3.8
    return (d * 0.72) ** 2


fig = plt.figure(figsize=(W / 100, H / 100), dpi=100)


def panel(l, t, r, b):
    return fig.add_axes([l / W, 1 - b / H, (r - l) / W, (b - t) / H])


def style(ax, xlim, ylim, xmaj, xmin, ymaj, ymin, xfmt, fs):
    ax.set_facecolor('#EBEBEB')
    for sp in ax.spines.values():
        sp.set_visible(False)
    ax.set_xlim(*xlim)
    ax.set_ylim(*ylim)
    ax.set_xticks(xmaj)
    ax.set_xticks(xmin, minor=True)
    ax.set_yticks(ymaj)
    ax.set_yticks(ymin, minor=True)
    ax.set_xticklabels([xfmt % v for v in xmaj])
    ax.set_yticklabels(['%.1f' % v for v in ymaj])
    ax.grid(which='major', color='white', lw=1.1)
    ax.grid(which='minor', color='white', lw=0.55)
    ax.tick_params(which='major', length=2.7, width=0.8, color='#333333',
                   labelcolor='#4D4D4D', labelsize=fs, pad=2)
    ax.tick_params(which='minor', length=0)
    ax.set_axisbelow(True)


def labels(ax, names, hx, hy, lx, ly, fs):
    for n, a, b, c, d in zip(names, hx, hy, lx, ly):
        ax.plot([c, a], [d, b], color='black', lw=0.9, zorder=5)
        ax.text(c, d, n, ha='center', va='center', fontsize=fs, zorder=6,
                bbox=dict(boxstyle='round,pad=0.3,rounding_size=0.25',
                          fc='white', ec='black', lw=0.7))


def trend(ax, fit, rng):
    xs = np.array(rng)
    ax.plot(xs, np.polyval(fit, xs), color='black', lw=0.9,
            dashes=(4, 3.5), zorder=4)


# main panel
ax = panel(51, 32, 572, 535)
style(ax, (3.78, 25.63), (0.604, 1.467), [5, 10, 15, 20, 25],
      [7.5, 12.5, 17.5, 22.5], [0.8, 1.0, 1.2, 1.4], [0.7, 0.9, 1.1, 1.3],
      '%g', 8.3)
ax.scatter(main_x, main_y, s=area_main(main_s), c='black', linewidths=0, zorder=2)
trend(ax, main_fit, main_fit_range)
ax.scatter(main_hx, main_hy, s=area_main(main_hs), c='#FF0000', linewidths=0, zorder=3)
labels(ax, main_names, main_hx, main_hy, main_lx, main_ly, 9.5)
fig.text(50 / W, 1 - 21 / H,
         'Overall Field Goal Attempt (FGA) Rate by Points Per Shot (PPS)',
         fontsize=12.5, ha='left', va='baseline')
fig.text(16 / W, 1 - 283.5 / H, ylabel, rotation=90, ha='center',
         va='center', fontsize=10.5)
fig.text(311.5 / W, 1 - 561 / H, xlabel, ha='center', va='center', fontsize=10.5)

# small panels
small = [
    ('Restricted Area: FGA Rate by PPS', (630, 27, 872, 252), '#FF0000',
     ra_x, ra_y, ra_s, ra_names, ra_hx, ra_hy, ra_hs, ra_lx, ra_ly, ra_fit, ra_fit_range),
    ('3\u2212pointers: FGA Rate by PPS', (918, 27, 1158, 252), '#00FF00',
     tp_x, tp_y, tp_s, tp_names, tp_hx, tp_hy, tp_hs, tp_lx, tp_ly, tp_fit, tp_fit_range),
    ('Paint: FGA Rate by PPS', (630, 315, 872, 540), '#00FFFF',
     pt_x, pt_y, pt_s, pt_names, pt_hx, pt_hy, pt_hs, pt_lx, pt_ly, pt_fit, pt_fit_range),
    ('Mid\u2212range: FGA Rate by PPS', (918, 315, 1158, 540), '#E066FF',
     mr_x, mr_y, mr_s, mr_names, mr_hx, mr_hy, mr_hs, mr_lx, mr_ly, mr_fit, mr_fit_range),
]

for (title, (l, t, r, b), col, xs, ys, ss, names, hx, hy, hs, lx, ly,
     fit, rng) in small:
    ax = panel(l, t, r, b)
    style(ax, (-0.5, 10.5), (0.177, 1.878), [0, 2.5, 5, 7.5, 10],
          [1.25, 3.75, 6.25, 8.75], [0.5, 1.0, 1.5], [0.25, 0.75, 1.25, 1.75],
          '%.1f', 7.4)
    ax.scatter(xs, ys, s=area_small(ss), c=col, linewidths=0, zorder=2)
    trend(ax, fit, rng)
    ax.scatter(hx, hy, s=area_small(hs), c='black', linewidths=0, zorder=3)
    labels(ax, names, hx, hy, lx, ly, 8)
    fig.text((l + 1) / W, 1 - (t - 13) / H, title, fontsize=10.7,
             ha='left', va='center')
    fig.text((l - 30) / W, 1 - (t + b) / 2 / H, ylabel, rotation=90,
             ha='center', va='center', fontsize=9.2)
    fig.text((l + r) / 2 / W, 1 - (b + 24.5) / H, xlabel, ha='center',
             va='center', fontsize=9.2)

fig.savefig('out.png', dpi=100)
